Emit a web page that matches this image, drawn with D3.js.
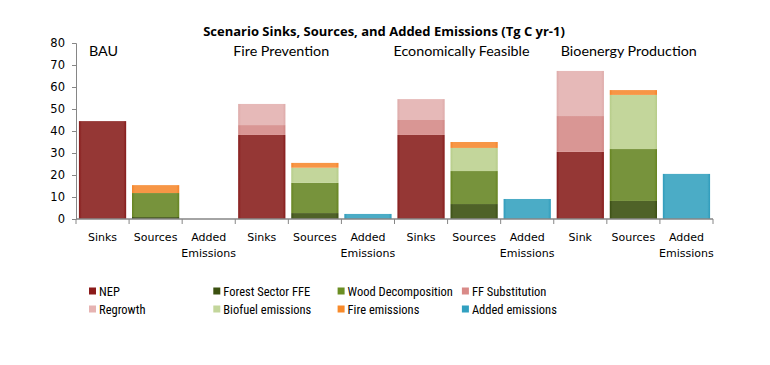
<!DOCTYPE html>
<html>
<head>
<meta charset="utf-8">
<script src="https://cdn.jsdelivr.net/npm/d3@7"></script>
<style>
  body { margin: 0; background: #fff; }
  svg { display: block; }
</style>
</head>
<body>
<svg id="chart" width="770" height="365"></svg>
<script>
// Scenario names, one per group of three bars
const scenarios = ['BAU', 'Fire Prevention', 'Economically Feasible', 'Bioenergy Production'];

// Category labels along the x axis
const barLabels = [
  'Sinks', 'Sources', 'Added Emissions',
  'Sinks', 'Sources', 'Added Emissions',
  'Sinks', 'Sources', 'Added Emissions',
  'Sink', 'Sources', 'Added Emissions',
];

const yTicks = [0, 10, 20, 30, 40, 50, 60, 70, 80];

// Series values (Tg C yr-1), one per bar
const nep = [44.5, 0, 0, 38.2, 0, 0, 38.2, 0, 0, 30.5, 0, 0];
const forestFFE = [0, 0.9, 0, 0, 2.7, 0, 0, 6.8, 0, 0, 8.2, 0];
const woodDecomp = [0, 10.9, 0, 0, 13.7, 0, 0, 15.0, 0, 0, 23.6, 0];
const ffSubstitution = [0, 0, 0, 4.5, 0, 0, 6.8, 0, 0, 16.3, 0, 0];
const regrowth = [0, 0, 0, 9.6, 0, 0, 9.5, 0, 0, 20.5, 0, 0];
const biofuel = [0, 0, 0, 0, 6.9, 0, 0, 10.5, 0, 0, 24.6, 0];
const fireEmissions = [0, 3.6, 0, 0, 2.2, 0, 0, 2.7, 0, 0, 2.2, 0];
const addedEmissions = [0, 0, 0, 0, 0, 2.3, 0, 0, 9.1, 0, 0, 20.5];

const series = [
  { name: 'NEP', values: nep, fill: '#953735', edge: '#861a1a', key: '#8b1a1a' },
  { name: 'Forest Sector FFE', values: forestFFE, fill: '#4f6228', edge: '#3b4f12', key: '#3b5010' },
  { name: 'Wood Decomposition', values: woodDecomp, fill: '#77933c', edge: '#66841f', key: '#6b8e23' },
  { name: 'FF Substitution', values: ffSubstitution, fill: '#d99694', edge: '#d08684', key: '#d98a88' },
  { name: 'Regrowth', values: regrowth, fill: '#e6b9b8', edge: '#ddaaa9', key: '#e6b3b2' },
  { name: 'Biofuel emissions', values: biofuel, fill: '#c3d69b', edge: '#b6cc88', key: '#c3d69b' },
  { name: 'Fire emissions', values: fireEmissions, fill: '#f79646', edge: '#f5842a', key: '#f88a2a' },
  { name: 'Added emissions', values: addedEmissions, fill: '#4bacc6', edge: '#2e9bbb', key: '#31a0c0' },
];

const svg = d3.select('#chart');
const axisColor = '#868686';
const labelFont = '"DejaVu Sans", Verdana, sans-serif';
const textFont = 'Lato, "Open Sans", sans-serif';
const legendFont = '"Liberation Sans Narrow", "Roboto Condensed", Lato, sans-serif';

const plot = { left: 76, right: 713, top: 43, bottom: 219 };

const x = d3.scaleBand()
  .domain(d3.range(barLabels.length))
  .range([plot.left, plot.right])
  .paddingInner(0.11)
  .paddingOuter(0.055);

const y = d3.scaleLinear()
  .domain([0, 80])
  .range([plot.bottom, plot.top]);

// Gradients give the bars their slightly darker edges
const defs = svg.append('defs');
series.forEach((s, i) => {
  const g = defs.append('linearGradient')
    .attr('id', `grad${i}`)
    .attr('x1', '0%').attr('x2', '100%')
    .attr('y1', '0%').attr('y2', '0%');
  g.append('stop').attr('offset', '0%').attr('stop-color', s.edge);
  g.append('stop').attr('offset', '6%').attr('stop-color', s.fill);
  g.append('stop').attr('offset', '94%').attr('stop-color', s.fill);
  g.append('stop').attr('offset', '100%').attr('stop-color', s.edge);
});

// Stacked bars
const rows = barLabels.map((label, i) => {
  const row = { i };
  series.forEach((s) => { row[s.name] = s.values[i]; });
  return row;
});

const stacked = d3.stack()
  .keys(series.map((s) => s.name))(rows);

svg.append('g')
  .selectAll('g')
  .data(stacked)
  .join('g')
  .attr('fill', (d, i) => `url(#grad${i})`)
  .selectAll('rect')
  .data((d) => d.filter((p) => p[1] - p[0] > 0))
  .join('rect')
  .attr('x', (d) => x(d.data.i))
  .attr('width', x.bandwidth())
  .attr('y', (d) => y(d[1]))
  .attr('height', (d) => y(d[0]) - y(d[1]));

// Y axis
const yAxis = svg.append('g')
  .attr('transform', `translate(${plot.left}, 0)`)
  .call(d3.axisLeft(y).tickValues(yTicks).tickSize(4).tickPadding(7));

yAxis.select('.domain').attr('stroke', axisColor);
yAxis.selectAll('.tick line').attr('stroke', axisColor);
yAxis.selectAll('.tick text')
  .attr('fill', '#000')
  .style('font-family', labelFont)
  .style('font-size', '11.5px');

// X axis: line with ticks on the band boundaries
const step = x.step();
const boundaries = d3.range(barLabels.length + 1).map((i) => plot.left + i * step);

const xAxis = svg.append('g');
xAxis.append('line')
  .attr('x1', plot.left).attr('x2', plot.right)
  .attr('y1', plot.bottom).attr('y2', plot.bottom)
  .attr('stroke', axisColor)
  .attr('stroke-width', 1.5);

xAxis.selectAll('line.tick')
  .data(boundaries)
  .join('line')
  .attr('class', 'tick')
  .attr('x1', (d) => d).attr('x2', (d) => d)
  .attr('y1', plot.bottom).attr('y2', plot.bottom + 5)
  .attr('stroke', axisColor);

xAxis.selectAll('text')
  .data(barLabels)
  .join('text')
  .attr('x', (d, i) => x(i) + x.bandwidth() / 2)
  .attr('y', 241)
  .attr('text-anchor', 'middle')
  .style('font-family', labelFont)
  .style('font-size', '11px')
  .attr('fill', '#000')
  .each(function (d) {
    const words = d.split(' ');
    const t = d3.select(this);
    words.forEach((w, k) => {
      t.append('tspan')
        .attr('x', t.attr('x'))
        .attr('dy', k === 0 ? 0 : 16)
        .text(w);
    });
  });

// Scenario names above each group (offsets from the group's first band)
const scenarioOffsets = [16, 1, 2, 10];
svg.append('g')
  .selectAll('text')
  .data(scenarios)
  .join('text')
  .attr('x', (d, i) => x(i * 3) - step * 0.055 + scenarioOffsets[i] - 3)
  .attr('y', 55.5)
  .style('font-family', textFont)
  .style('font-size', '14.3px')
  .attr('fill', '#000')
  .text((d) => d);

// Title
svg.append('text')
  .attr('x', 384)
  .attr('y', 35.5)
  .attr('text-anchor', 'middle')
  .style('font-family', '"Open Sans", Lato, sans-serif')
  .style('font-weight', 'bold')
  .style('font-size', '13px')
  .text('Scenario Sinks, Sources, and Added Emissions (Tg C yr-1)');

// Legend, four columns by two rows
const legend = svg.append('g')
  .selectAll('g')
  .data(series)
  .join('g')
  .attr('transform', (d, i) => `translate(${89 + (i % 4) * 124.3}, ${287.5 + Math.floor(i / 4) * 18})`);

legend.append('rect')
  .attr('width', 7)
  .attr('height', 7)
  .attr('fill', (d) => d.key);

legend.append('text')
  .attr('x', 10)
  .attr('y', 8)
  .style('font-family', legendFont)
  .style('font-size', '12.5px')
  .attr('fill', '#000')
  .text((d) => d.name);
</script>
</body>
</html>
